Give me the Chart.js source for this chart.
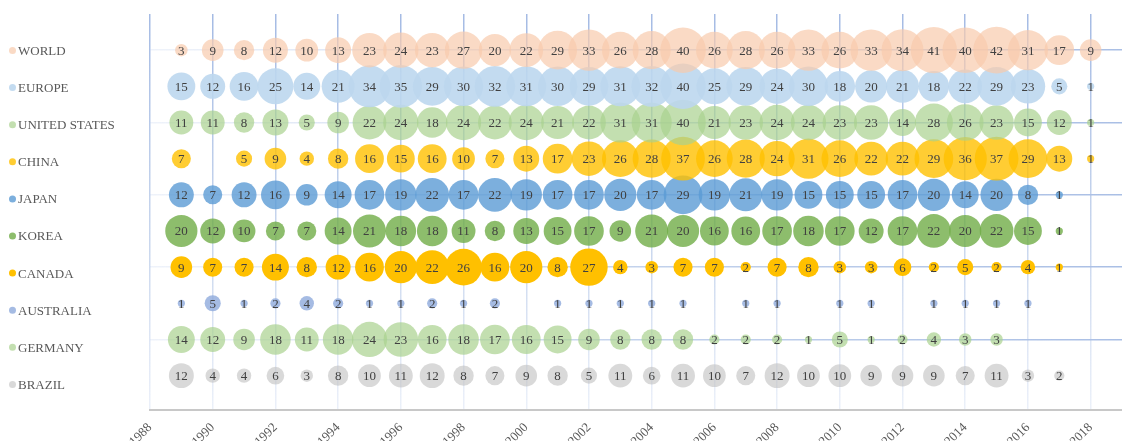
<!DOCTYPE html>
<html>
<head>
<meta charset="utf-8">
<script src="https://cdn.jsdelivr.net/npm/chart.js@4.4.0/dist/chart.umd.min.js"></script>
<style>
  html, body { margin: 0; padding: 0; background: #fff; overflow: hidden; }
  #wrap { width: 1122px; height: 455px; }
</style>
</head>
<body>
<div id="wrap"><canvas id="chart" width="1122" height="455"></canvas></div>
<script>
const years = [1989, 1990, 1991, 1992, 1993, 1994, 1995, 1996, 1997, 1998,
               1999, 2000, 2001, 2002, 2003, 2004, 2005, 2006, 2007, 2008,
               2009, 2010, 2011, 2012, 2013, 2014, 2015, 2016, 2017, 2018];
const tickYears = [1988, 1990, 1992, 1994, 1996, 1998, 2000, 2002,
                   2004, 2006, 2008, 2010, 2012, 2014, 2016, 2018];

const regions = ['WORLD', 'EUROPE', 'UNITED STATES', 'CHINA', 'JAPAN',
                 'KOREA', 'CANADA', 'AUSTRALIA', 'GERMANY', 'BRAZIL'];

// one value per year, starting 1989 (null = no entry)
const world     = [3, 9, 8, 12, 10, 13, 23, 24, 23, 27, 20, 22, 29, 33, 26, 28, 40, 26, 28, 26, 33, 26, 33, 34, 41, 40, 42, 31, 17, 9];
const europe    = [15, 12, 16, 25, 14, 21, 34, 35, 29, 30, 32, 31, 30, 29, 31, 32, 40, 25, 29, 24, 30, 18, 20, 21, 18, 22, 29, 23, 5, 1];
const usa       = [11, 11, 8, 13, 5, 9, 22, 24, 18, 24, 22, 24, 21, 22, 31, 31, 40, 21, 23, 24, 24, 23, 23, 14, 28, 26, 23, 15, 12, 1];
const china     = [7, null, 5, 9, 4, 8, 16, 15, 16, 10, 7, 13, 17, 23, 26, 28, 37, 26, 28, 24, 31, 26, 22, 22, 29, 36, 37, 29, 13, 1];
const japan     = [12, 7, 12, 16, 9, 14, 17, 19, 22, 17, 22, 19, 17, 17, 20, 17, 29, 19, 21, 19, 15, 15, 15, 17, 20, 14, 20, 8, 1];
const korea     = [20, 12, 10, 7, 7, 14, 21, 18, 18, 11, 8, 13, 15, 17, 9, 21, 20, 16, 16, 17, 18, 17, 12, 17, 22, 20, 22, 15, 1];
const canada    = [9, 7, 7, 14, 8, 12, 16, 20, 22, 26, 16, 20, 8, 27, 4, 3, 7, 7, 2, 7, 8, 3, 3, 6, 2, 5, 2, 4, 1];
const australia = [1, 5, 1, 2, 4, 2, 1, 1, 2, 1, 2, null, 1, 1, 1, 1, 1, null, 1, 1, null, 1, 1, null, 1, 1, 1, 1];
const germany   = [14, 12, 9, 18, 11, 18, 24, 23, 16, 18, 17, 16, 15, 9, 8, 8, 8, 2, 2, 2, 1, 5, 1, 2, 4, 3, 3];
const brazil    = [12, 4, 4, 6, 3, 8, 10, 11, 12, 8, 7, 9, 8, 5, 11, 6, 11, 10, 7, 12, 10, 10, 9, 9, 9, 7, 11, 3, 2];

const series = [world, europe, usa, china, japan, korea, canada, australia, germany, brazil];

const colors = [
  'rgba(248,203,173,0.7)',
  'rgba(189,215,238,0.9)',
  'rgba(169,209,142,0.7)',
  'rgba(255,192,0,0.8)',
  'rgba(91,155,213,0.8)',
  'rgba(112,173,71,0.8)',
  'rgba(255,192,0,1)',
  'rgba(143,170,220,0.8)',
  'rgba(169,209,142,0.7)',
  'rgba(191,191,191,0.6)'
];

const serif = '"Liberation Serif", "Times New Roman", serif';
const BUBBLE_SCALE = 3.6; // radius grows with sqrt of value (area ~ value)

// top row first: WORLD sits highest on the y scale
const rowOf = i => regions.length - 1 - i;

const datasets = regions.map((name, i) => ({
  label: name,
  backgroundColor: colors[i],
  borderWidth: 0,
  data: series[i]
    .map((v, k) => v == null ? null : { x: years[k], y: rowOf(i), r: BUBBLE_SCALE * Math.sqrt(v), v: v })
    .filter(Boolean)
}));

function vGradient(chart) {
  const a = chart.chartArea;
  if (!a) return 'rgba(180,199,231,0.8)';
  const g = chart.ctx.createLinearGradient(0, a.top, 0, a.bottom);
  g.addColorStop(0, 'rgba(165,187,228,1)');
  g.addColorStop(0.6, 'rgba(180,199,231,0.7)');
  g.addColorStop(1, 'rgba(190,206,236,0.3)');
  return g;
}

function hGradient(chart) {
  const a = chart.chartArea;
  if (!a) return 'rgba(180,199,231,0.8)';
  const g = chart.ctx.createLinearGradient(a.left, 0, a.right, 0);
  g.addColorStop(0, 'rgba(190,206,236,0.25)');
  g.addColorStop(0.5, 'rgba(180,199,231,0.8)');
  g.addColorStop(1, 'rgba(170,191,229,1)');
  return g;
}

// value text in the middle of each bubble
const valueLabels = {
  id: 'valueLabels',
  afterDatasetsDraw(chart) {
    const ctx = chart.ctx;
    ctx.save();
    ctx.font = '13px ' + serif;
    ctx.fillStyle = '#404040';
    ctx.textAlign = 'center';
    ctx.textBaseline = 'middle';
    chart.data.datasets.forEach((ds, i) => {
      chart.getDatasetMeta(i).data.forEach((pt, j) => {
        ctx.fillText(String(ds.data[j].v), pt.x, pt.y + 1);
      });
    });
    ctx.restore();
  }
};

// region list down the left side
const regionList = {
  id: 'regionList',
  afterDraw(chart) {
    const ctx = chart.ctx;
    ctx.save();
    ctx.font = '13px ' + serif;
    ctx.textBaseline = 'middle';
    ctx.textAlign = 'left';
    regions.forEach((name, i) => {
      const y = 50.5 + i * 37.1;
      ctx.fillStyle = colors[i];
      ctx.beginPath();
      ctx.arc(12.5, y, 3.5, 0, Math.PI * 2);
      ctx.fill();
      ctx.fillStyle = '#595959';
      ctx.fillText(name, 18, y + 1);
    });
    ctx.restore();
  }
};

new Chart(document.getElementById('chart'), {
  type: 'bubble',
  data: { datasets },
  options: {
    responsive: false,
    animation: false,
    events: [],
    layout: { autoPadding: false, padding: { left: 150, top: 14, right: 0, bottom: 0 } },
    plugins: { legend: { display: false }, tooltip: { enabled: false } },
    scales: {
      x: {
        type: 'linear',
        min: 1988,
        max: 2019,
        afterBuildTicks: s => { s.ticks = tickYears.map(v => ({ value: v })); },
        afterFit: s => { s.height = 45; },
        ticks: {
          minRotation: 45,
          maxRotation: 45,
          padding: 10,
          color: '#595959',
          font: { family: serif, size: 13 },
          callback: v => String(v)
        },
        grid: { drawTicks: false, lineWidth: 1.5, color: ctx => vGradient(ctx.chart) },
        border: { color: '#c8c8c8', width: 2 }
      },
      y: {
        type: 'linear',
        min: -0.95,
        max: 10,
        afterBuildTicks: s => {
          s.ticks = regions.map((_, i) => rowOf(i)).filter(r => r % 2 === 1).map(v => ({ value: v }));
        },
        afterFit: s => { s.width = 0; },
        ticks: { display: false },
        grid: { drawTicks: false, lineWidth: 1.5, color: ctx => hGradient(ctx.chart) },
        border: { display: false }
      }
    }
  },
  plugins: [valueLabels, regionList]
});
</script>
</body>
</html>
